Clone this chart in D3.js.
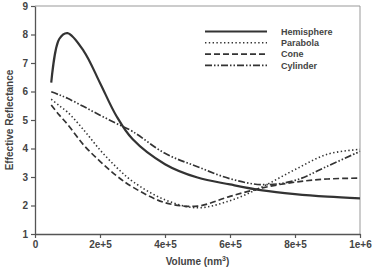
<!DOCTYPE html>
<html><head><meta charset="utf-8">
<script src="https://cdn.jsdelivr.net/npm/d3@7"></script>
<style>body{margin:0;background:#fff}svg{display:block}</style>
</head><body>
<script>
const volumes = [50000, 75000, 100000, 150000, 200000, 250000, 300000, 400000, 500000, 600000, 700000, 800000, 900000, 1000000];
const hemisphere = [6.31, 7.85, 8.05, 7.42, 6.3, 5.15, 4.33, 3.45, 2.98, 2.74, 2.53, 2.4, 2.31, 2.25];
const parabola   = [5.73, 5.5, 5.28, 4.65, 3.95, 3.35, 2.85, 2.2, 1.92, 2.17, 2.66, 3.26, 3.8, 3.97];
const cone       = [5.53, 5.17, 4.85, 4.12, 3.55, 3.05, 2.65, 2.1, 1.98, 2.32, 2.62, 2.82, 2.93, 2.96];
const cylinder   = [5.99, 5.88, 5.76, 5.47, 5.17, 4.88, 4.6, 3.83, 3.36, 2.94, 2.73, 2.88, 3.38, 3.9];
const seriesNames = ["Hemisphere", "Parabola", "Cone", "Cylinder"];
const xTicks = [0, 200000, 400000, 600000, 800000, 1000000];
const xTickLabels = ["0", "2e+5", "4e+5", "6e+5", "8e+5", "1e+6"];
const yTicks = [1, 2, 3, 4, 5, 6, 7, 8, 9];

const W = 372, H = 270;
const m = {left: 35, right: 12, top: 6, bottom: 36};
const svg = d3.select("body").append("svg").attr("width", W).attr("height", H);
const x = d3.scaleLinear().domain([0, 1000000]).range([m.left, W - m.right]);
const y = d3.scaleLinear().domain([1, 9]).range([H - m.bottom, m.top]);

const styles = [
  {dash: null, w: 2.2},
  {dash: "1.4,2.4", w: 1.6},
  {dash: "6,3", w: 1.7},
  {dash: "7,2,1.5,2,1.5,2", w: 1.7}
];
const data = [hemisphere, parabola, cone, cylinder];
const col = "#333";

// frame
svg.append("line").attr("x1", x(0)).attr("x2", x(1000000)).attr("y1", y(9)).attr("y2", y(9)).attr("stroke", "#999").attr("stroke-width", 1);
svg.append("line").attr("x1", x(1000000)).attr("x2", x(1000000)).attr("y1", y(9)).attr("y2", y(1)).attr("stroke", "#999").attr("stroke-width", 1);

const xAxis = svg.append("g").attr("transform", `translate(0,${y(1)})`)
  .call(d3.axisBottom(x).tickValues(xTicks).tickFormat((d, i) => xTickLabels[i]).tickSizeInner(4).tickSizeOuter(0).tickPadding(3));
const yAxis = svg.append("g").attr("transform", `translate(${x(0)},0)`)
  .call(d3.axisLeft(y).tickValues(yTicks).tickFormat(d3.format("d")).tickSizeInner(4).tickSizeOuter(0).tickPadding(3));
[xAxis, yAxis].forEach(a => {
  a.select(".domain").attr("stroke", "#555").attr("stroke-width", 1.3);
  a.selectAll(".tick line").attr("stroke", "#555").attr("stroke-width", 1.2);
  a.selectAll("text").attr("font-family", "Liberation Sans, Arial, sans-serif").attr("font-weight", "bold").attr("font-size", 10).attr("fill", "#444");
});

const line = d3.line().x((d, i) => x(volumes[i])).y(d => y(d)).curve(d3.curveCatmullRom.alpha(0.5));
data.forEach((vals, k) => {
  svg.append("path").datum(vals).attr("d", line).attr("fill", "none")
    .attr("stroke", col).attr("stroke-width", styles[k].w)
    .attr("stroke-dasharray", styles[k].dash);
});

// legend
const lg = svg.append("g");
seriesNames.forEach((n, k) => {
  const ly = 31.5 + k * 11.3;
  lg.append("line").attr("x1", 205).attr("x2", 267).attr("y1", ly).attr("y2", ly)
    .attr("stroke", col).attr("stroke-width", styles[k].w).attr("stroke-dasharray", styles[k].dash);
  lg.append("text").attr("x", 281).attr("y", ly + 3.2).text(n)
    .attr("font-family", "Liberation Sans, Arial, sans-serif").attr("font-weight", "bold")
    .attr("font-size", 9).attr("fill", "#444");
});

// axis titles
const xt = svg.append("text").attr("x", (x(0) + x(1000000)) / 2).attr("y", 265).attr("text-anchor", "middle")
  .attr("font-family", "Liberation Sans, Arial, sans-serif").attr("font-weight", "bold").attr("font-size", 10).attr("fill", "#444");
xt.append("tspan").text("Volume (nm");
xt.append("tspan").text("3").attr("font-size", 7).attr("dy", -4);
xt.append("tspan").text(")").attr("dy", 4);

svg.append("text").attr("transform", `translate(13,${y(5)}) rotate(-90)`).attr("text-anchor", "middle")
  .attr("font-family", "Liberation Sans, Arial, sans-serif").attr("font-weight", "bold").attr("font-size", 10).attr("fill", "#444")
  .text("Effective Reflectance");
</script>
</body></html>
